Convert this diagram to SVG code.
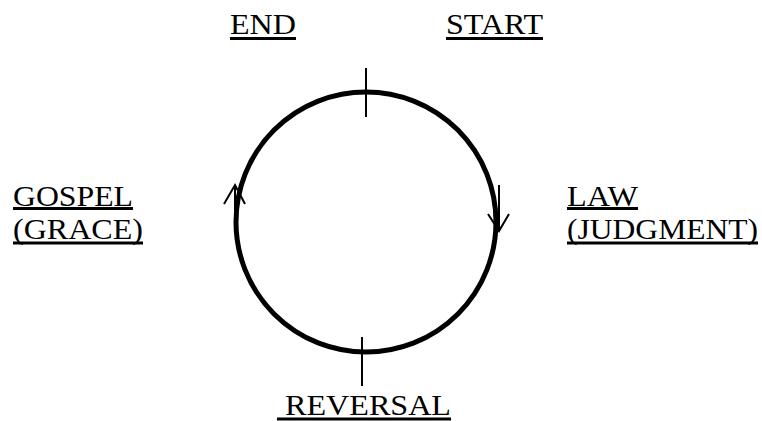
<svg xmlns="http://www.w3.org/2000/svg" width="762" height="421" viewBox="0 0 762 421">
  <style>
    .ul { stroke: #000; stroke-width: 3; }
    .thin { stroke: #000; stroke-width: 2; fill: none; }
    text { font-family: "Liberation Serif", Tinos, "Times New Roman", "DejaVu Serif", serif; font-size: 30px; fill: #000; }
  </style>
  <rect width="762" height="421" fill="#fff"/>
  <g id="cycle">
    <circle cx="366" cy="222" r="130" fill="none" stroke="#000" stroke-width="5"/>
  </g>
  <g id="connectors">
    <line class="thin" x1="366" y1="68" x2="366" y2="117"/>
    <line class="thin" x1="362" y1="337" x2="362" y2="386"/>
    <path class="thin" d="M235,185 L235,222 M224,204 L235,185 L245,204"/>
    <path class="thin" d="M499,185 L499,231 M488,214 L499,231 L509,214"/>
  </g>
  <g id="end">
    <text x="230" y="34" textLength="66" lengthAdjust="spacingAndGlyphs">END</text>
    <line class="ul" x1="230" y1="38.5" x2="296" y2="38.5"/>
  </g>
  <g id="start">
    <text x="446" y="34" textLength="97" lengthAdjust="spacingAndGlyphs">START</text>
    <line class="ul" x1="446" y1="38.5" x2="543" y2="38.5"/>
  </g>
  <g id="gospel">
    <text x="13" y="206" textLength="120" lengthAdjust="spacingAndGlyphs">GOSPEL</text>
    <line class="ul" x1="13" y1="208.5" x2="133" y2="208.5"/>
    <text x="13" y="239" textLength="130" lengthAdjust="spacingAndGlyphs">(GRACE)</text>
    <line class="ul" x1="13" y1="243" x2="143" y2="243"/>
  </g>
  <g id="law">
    <text x="567" y="206" textLength="71" lengthAdjust="spacingAndGlyphs">LAW</text>
    <line class="ul" x1="567" y1="208.5" x2="638" y2="208.5"/>
    <text x="567" y="239" textLength="191" lengthAdjust="spacingAndGlyphs">(JUDGMENT)</text>
    <line class="ul" x1="567" y1="243" x2="758" y2="243"/>
  </g>
  <g id="reversal">
    <text x="285" y="415" textLength="166" lengthAdjust="spacingAndGlyphs">REVERSAL</text>
    <line class="ul" x1="277" y1="419" x2="451" y2="419"/>
  </g>
</svg>
